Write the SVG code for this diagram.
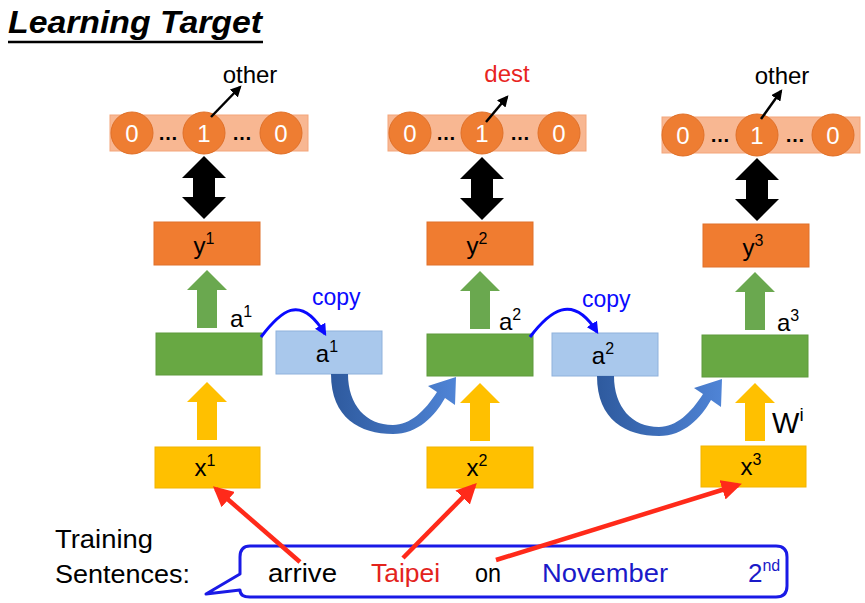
<svg xmlns="http://www.w3.org/2000/svg" width="865" height="603" viewBox="0 0 865 603">
<defs>
<style>
text{font-family:"Liberation Sans","DejaVu Sans",sans-serif;}
.bar{fill:#f8b792;stroke:#f4a57a;stroke-width:1}
.oc{fill:#ee7d32;stroke:#e07028;stroke-width:1}
.num{fill:#fff;font-size:24px;text-anchor:middle}
.dots{fill:#000;font-size:20px;font-weight:bold;text-anchor:middle}
.ybox{fill:#f07c30;stroke:#e0702a;stroke-width:1}
.gbox{fill:#68a843;stroke:#5e9a3c;stroke-width:1}
.abox{fill:#a9c8ec;stroke:#8fb2dc;stroke-width:1}
.xbox{fill:#ffc000;stroke:#f2b400;stroke-width:1}
.lbl{fill:#000;font-size:24px;text-anchor:middle}
.garrow{fill:#6aa84f}
.yarrow{fill:#ffc000}
.barrow{fill:#000}
.red{stroke:#ff2a1a;stroke-width:4.5;fill:none;marker-end:url(#rh)}
.copy{stroke:#0a0aff;stroke-width:3;fill:none;marker-end:url(#bh)}
.ptr{stroke:#000;stroke-width:2.5;fill:none;marker-end:url(#kh)}
.curve{fill:url(#cg)}
</style>
<marker id="rh" viewBox="0 0 10 10" refX="8" refY="5" markerWidth="4.5" markerHeight="4.5" orient="auto" markerUnits="strokeWidth"><path d="M0,0 L10,5 L0,10 Z" fill="#ff2a1a"/></marker>
<marker id="bh" viewBox="0 0 10 10" refX="8" refY="5" markerWidth="4" markerHeight="4" orient="auto" markerUnits="strokeWidth"><path d="M0,0 L10,5 L0,10 Z" fill="#0a0aff"/></marker>
<marker id="kh" viewBox="0 0 10 10" refX="8" refY="5" markerWidth="4.5" markerHeight="4.5" orient="auto" markerUnits="strokeWidth"><path d="M0,0 L10,5 L0,10 Z" fill="#000"/></marker>
<linearGradient id="cg" x1="0" y1="0" x2="1" y2="0">
<stop offset="0" stop-color="#2e5a9e"/>
<stop offset="1" stop-color="#4f84d6"/>
</linearGradient>
</defs>
<rect width="865" height="603" fill="#fff"/>

<g id="title">
<text x="8" y="33" font-size="32" font-weight="bold" font-style="italic" textLength="254" lengthAdjust="spacingAndGlyphs">Learning Target</text>
<line x1="8" y1="42" x2="263" y2="42" stroke="#000" stroke-width="2.5"/>
</g>

<!-- Column 1 -->
<g id="target1">
<rect class="bar" x="110" y="115" width="198" height="36"/>
<circle class="oc" cx="132" cy="133" r="21"/>
<circle class="oc" cx="204" cy="133" r="21"/>
<circle class="oc" cx="281" cy="133" r="21"/>
<text class="num" x="132" y="142">0</text>
<text class="num" x="204" y="142">1</text>
<text class="num" x="281" y="142">0</text>
<text class="dots" x="168" y="140">…</text>
<text class="dots" x="242" y="140">…</text>
<text x="250" y="83" font-size="24" text-anchor="middle">other</text>
</g>
<g id="y1"><rect class="ybox" x="154" y="222" width="106" height="43"/><text class="lbl" x="204" y="254">y<tspan font-size="16" dy="-10">1</tspan></text></g>
<g id="h1"><rect class="gbox" x="156" y="333" width="106" height="42"/></g>
<g id="a1copy"><rect class="abox" x="276" y="331" width="106" height="43"/><text class="lbl" x="327" y="362">a<tspan font-size="16" dy="-10">1</tspan></text></g>
<g id="x1"><rect class="xbox" x="155" y="447" width="105" height="41"/><text class="lbl" x="205" y="476">x<tspan font-size="16" dy="-10">1</tspan></text></g>

<!-- Column 2 -->
<g id="target2">
<rect class="bar" x="388" y="115" width="198" height="36"/>
<circle class="oc" cx="410" cy="133" r="21"/>
<circle class="oc" cx="482" cy="133" r="21"/>
<circle class="oc" cx="559" cy="133" r="21"/>
<text class="num" x="410" y="142">0</text>
<text class="num" x="482" y="142">1</text>
<text class="num" x="559" y="142">0</text>
<text class="dots" x="446" y="140">…</text>
<text class="dots" x="520" y="140">…</text>
<text x="507" y="82" font-size="24" text-anchor="middle" fill="#e8251f">dest</text>
</g>
<g id="y2"><rect class="ybox" x="427" y="222" width="106" height="43"/><text class="lbl" x="477" y="254">y<tspan font-size="16" dy="-10">2</tspan></text></g>
<g id="h2"><rect class="gbox" x="427" y="334" width="106" height="42"/></g>
<g id="a2copy"><rect class="abox" x="552" y="333" width="106" height="43"/><text class="lbl" x="603" y="364">a<tspan font-size="16" dy="-10">2</tspan></text></g>
<g id="x2"><rect class="xbox" x="427" y="447" width="106" height="41"/><text class="lbl" x="477" y="476">x<tspan font-size="16" dy="-10">2</tspan></text></g>

<!-- Column 3 -->
<g id="target3">
<rect class="bar" x="662" y="117" width="198" height="36"/>
<circle class="oc" cx="683" cy="135" r="21"/>
<circle class="oc" cx="757" cy="135" r="21"/>
<circle class="oc" cx="833" cy="135" r="21"/>
<text class="num" x="683" y="144">0</text>
<text class="num" x="757" y="144">1</text>
<text class="num" x="833" y="144">0</text>
<text class="dots" x="720" y="142">…</text>
<text class="dots" x="795" y="142">…</text>
<text x="782" y="84" font-size="24" text-anchor="middle">other</text>
</g>
<g id="y3"><rect class="ybox" x="703" y="224" width="106" height="43"/><text class="lbl" x="753" y="256">y<tspan font-size="16" dy="-10">3</tspan></text></g>
<g id="h3"><rect class="gbox" x="702" y="335" width="106" height="42"/></g>
<g id="x3"><rect class="xbox" x="701" y="446" width="105" height="41"/><text class="lbl" x="751" y="475">x<tspan font-size="16" dy="-10">3</tspan></text></g>

<!-- Training sentence -->
<g id="training">
<text x="55" y="548" font-size="25" textLength="98" lengthAdjust="spacingAndGlyphs">Training</text>
<text x="55" y="583" font-size="25" textLength="135" lengthAdjust="spacingAndGlyphs">Sentences:</text>
</g>
<g id="sentence">
<path d="M250,546 H776 Q787,546 787,557 V586 Q787,597 776,597 H250 Q240,597 240,590 L206,594 L240,574 V557 Q240,546 250,546 Z" fill="#fff" stroke="#1a1ae6" stroke-width="3" stroke-linejoin="round"/>
<text x="268" y="582" font-size="26" textLength="69" lengthAdjust="spacingAndGlyphs">arrive</text>
<text x="371" y="582" font-size="26" fill="#e3231c" textLength="69" lengthAdjust="spacingAndGlyphs">Taipei</text>
<text x="475" y="582" font-size="26" textLength="26" lengthAdjust="spacingAndGlyphs">on</text>
<text x="542" y="582" font-size="26" fill="#1a1ac8" textLength="126" lengthAdjust="spacingAndGlyphs">November</text>
<text x="748" y="582" font-size="26" fill="#1a1ac8">2<tspan font-size="16" dy="-11">nd</tspan></text>
</g>

<!-- Labels -->
<g id="labels">
<text x="230" y="327" font-size="24">a<tspan font-size="16" dy="-10">1</tspan></text>
<text x="499" y="330" font-size="24">a<tspan font-size="16" dy="-10">2</tspan></text>
<text x="777" y="331" font-size="24">a<tspan font-size="16" dy="-10">3</tspan></text>
<text x="312" y="305" font-size="23" fill="#0a0aff">copy</text>
<text x="582" y="307" font-size="23" fill="#0a0aff">copy</text>
<text x="772" y="433" font-size="29">W<tspan font-size="19" dy="-12">i</tspan></text>
</g>

<!-- Connectors -->
<g id="connectors">
<path class="barrow" d="M204,156 L226,178 L215,178 L215,197 L226,197 L204,219 L182,197 L193,197 L193,178 L182,178 Z"/>
<path class="barrow" d="M482,157 L504,179 L493,179 L493,198 L504,198 L482,220 L460,198 L471,198 L471,179 L460,179 Z"/>
<path class="barrow" d="M757,158 L779,180 L768,180 L768,199 L779,199 L757,221 L735,199 L746,199 L746,180 L735,180 Z"/>
<path class="garrow" d="M207,270 L227,290 L217,290 L217,328 L197,328 L197,290 L187,290 Z"/>
<path class="garrow" d="M480,271 L500,291 L490,291 L490,329 L470,329 L470,291 L460,291 Z"/>
<path class="garrow" d="M755,272 L775,292 L765,292 L765,330 L745,330 L745,292 L735,292 Z"/>
<path class="yarrow" d="M207,382 L227,402 L217,402 L217,440 L197,440 L197,402 L187,402 Z"/>
<path class="yarrow" d="M480,383 L500,403 L490,403 L490,441 L470,441 L470,403 L460,403 Z"/>
<path class="yarrow" d="M755,383 L775,403 L765,403 L765,441 L745,441 L745,403 L735,403 Z"/>
<line class="ptr" x1="211" y1="117" x2="240" y2="87"/>
<line class="ptr" x1="486" y1="122" x2="507" y2="97"/>
<line class="ptr" x1="761" y1="119" x2="781" y2="91"/>
<path class="copy" d="M261,337 C280,312 300,292 325,334"/>
<path class="copy" d="M530,337 C549,312 572,292 597,332"/>
<path class="curve" d="M331,374 C331,418 360,434 393,434 C418,434 435,416 445,398 L455,405 L456,377 L428,386 L437,392 C425,411 410,425 393,425 C366,425 348,405 348,374 Z"/>
<path class="curve" transform="translate(266,2)" d="M331,374 C331,418 360,434 393,434 C418,434 435,416 445,398 L455,405 L456,377 L428,386 L437,392 C425,411 410,425 393,425 C366,425 348,405 348,374 Z"/>
<line class="red" x1="300" y1="562" x2="216" y2="489"/>
<line class="red" x1="403" y1="558" x2="474" y2="486"/>
<line class="red" x1="496" y1="560" x2="738" y2="485"/>
</g>
</svg>
